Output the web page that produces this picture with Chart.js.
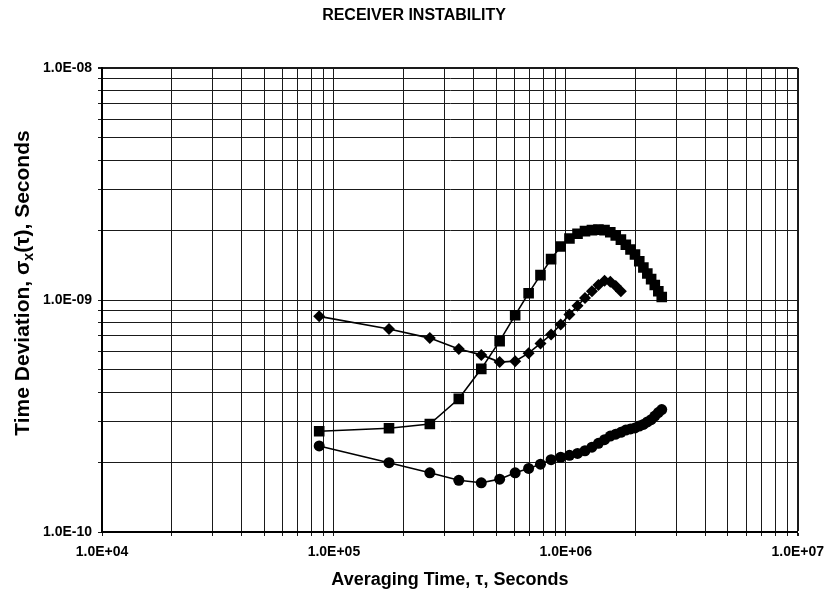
<!DOCTYPE html>
<html>
<head>
<meta charset="utf-8">
<script src="https://cdn.jsdelivr.net/npm/chart.js@4.4.0/dist/chart.umd.min.js"></script>
<style>
  html, body { margin: 0; padding: 0; background: #fff; }
  #wrap { width: 832px; height: 594px; }
</style>
</head>
<body>
<div id="wrap"><canvas id="chart" width="832" height="594"></canvas></div>
<script>
const chartTitle = "RECEIVER INSTABILITY";
const xTitle = "Averaging Time, \u03c4, Seconds";
const yTitleParts = ["Time Deviation, \u03c3", "x", "(\u03c4), Seconds"];

// decade ticks and their labels
const xDecades = [1e4, 1e5, 1e6, 1e7];
const xDecadeLabels = ["1.0E+04", "1.0E+05", "1.0E+06", "1.0E+07"];
const yDecades = [1e-10, 1e-9, 1e-8];
const yDecadeLabels = ["1.0E-10", "1.0E-09", "1.0E-08"];

// averaging times, seconds (1 to 30 days)
const tauDiamond = [86400, 172800, 259200, 345600, 432000, 518400, 604800, 691200, 777600, 864000,
  950400, 1036800, 1123200, 1209600, 1296000, 1382400, 1468800, 1555200, 1641600, 1728000];
const devDiamond = [8.5e-10, 7.5e-10, 6.85e-10, 6.15e-10, 5.8e-10, 5.4e-10, 5.45e-10, 5.9e-10, 6.5e-10, 7.1e-10,
  7.85e-10, 8.65e-10, 9.45e-10, 1.02e-9, 1.09e-9, 1.16e-9, 1.21e-9, 1.2e-9, 1.15e-9, 1.09e-9];

const tauSquare = [86400, 172800, 259200, 345600, 432000, 518400, 604800, 691200, 777600, 864000,
  950400, 1036800, 1123200, 1209600, 1296000, 1382400, 1468800, 1555200, 1641600, 1728000,
  1814400, 1900800, 1987200, 2073600, 2160000, 2246400, 2332800, 2419200, 2505600, 2592000];
const devSquare = [2.72e-10, 2.8e-10, 2.92e-10, 3.75e-10, 5.05e-10, 6.65e-10, 8.6e-10, 1.07e-9, 1.28e-9, 1.5e-9,
  1.7e-9, 1.84e-9, 1.93e-9, 1.98e-9, 2.0e-9, 2.01e-9, 2.0e-9, 1.96e-9, 1.9e-9, 1.82e-9,
  1.73e-9, 1.65e-9, 1.57e-9, 1.47e-9, 1.38e-9, 1.3e-9, 1.23e-9, 1.16e-9, 1.09e-9, 1.03e-9];

const tauCircle = tauSquare;
const devCircle = [2.35e-10, 1.99e-10, 1.8e-10, 1.67e-10, 1.63e-10, 1.69e-10, 1.8e-10, 1.88e-10, 1.96e-10, 2.05e-10,
  2.1e-10, 2.14e-10, 2.18e-10, 2.24e-10, 2.32e-10, 2.41e-10, 2.5e-10, 2.59e-10, 2.64e-10, 2.69e-10,
  2.75e-10, 2.78e-10, 2.81e-10, 2.86e-10, 2.91e-10, 2.98e-10, 3.05e-10, 3.16e-10, 3.27e-10, 3.37e-10];

const FONT = "'Liberation Sans', Arial, sans-serif";

function pairs(xs, ys) {
  return xs.map((x, i) => ({ x: x, y: ys[i] }));
}

// 1..9 x each decade, for the grid
function logGrid(decades) {
  let out = [];
  for (let i = 0; i < decades.length - 1; i++) {
    for (let m = 1; m <= 9; m++) out.push({ value: decades[i] * m });
  }
  out.push({ value: decades[decades.length - 1] });
  return out;
}

function decadeLabel(value, decades, labels) {
  for (let i = 0; i < decades.length; i++) {
    if (Math.abs(Math.log10(value) - Math.log10(decades[i])) < 1e-6) return labels[i];
  }
  return "";
}

const textPlugin = {
  id: "texts",
  afterDraw(chart) {
    const ctx = chart.ctx;
    const area = chart.chartArea;
    ctx.save();
    ctx.fillStyle = "#000";
    ctx.textAlign = "center";
    ctx.textBaseline = "middle";
    ctx.font = "bold 16px " + FONT;
    ctx.fillText(chartTitle, 414, 16);
    ctx.font = "bold 18px " + FONT;
    ctx.fillText(xTitle, (area.left + area.right) / 2, 580);

    // y title with subscript
    ctx.translate(23, 283);
    ctx.rotate(-Math.PI / 2);
    ctx.textAlign = "left";
    const mainFont = "bold 21px " + FONT;
    const subFont = "bold 14px " + FONT;
    ctx.font = mainFont;
    const w1 = ctx.measureText(yTitleParts[0]).width;
    const w3 = ctx.measureText(yTitleParts[2]).width;
    ctx.font = subFont;
    const w2 = ctx.measureText(yTitleParts[1]).width;
    let x = -(w1 + w2 + w3) / 2;
    ctx.font = mainFont;
    ctx.fillText(yTitleParts[0], x, 0);
    x += w1;
    ctx.font = subFont;
    ctx.fillText(yTitleParts[1], x, 6);
    x += w2;
    ctx.font = mainFont;
    ctx.fillText(yTitleParts[2], x, 0);
    ctx.restore();
  }
};

function series(data, style, radius) {
  return {
    data: data,
    borderColor: "#000",
    backgroundColor: "#000",
    borderWidth: 1.6,
    pointStyle: style,
    pointRadius: radius,
    pointBorderWidth: 0,
    tension: 0,
    fill: false
  };
}

function gridWidth(ctx) {
  const s = ctx.scale;
  if (!ctx.tick) return 1;
  return Math.abs(ctx.tick.value - s.max) / s.max < 1e-6 ? 2 : 1;
}

new Chart(document.getElementById("chart"), {
  type: "line",
  data: {
    datasets: [
      series(pairs(tauDiamond, devDiamond), "rectRot", 6),
      series(pairs(tauSquare, devSquare), "rect", 7.5),
      series(pairs(tauCircle, devCircle), "circle", 5.5)
    ]
  },
  options: {
    responsive: false,
    animation: false,
    devicePixelRatio: 1,
    layout: { padding: { left: 0, right: 29, top: 68, bottom: 0 } },
    plugins: {
      legend: { display: false },
      tooltip: { enabled: false },
      title: { display: false }
    },
    scales: {
      x: {
        type: "logarithmic",
        min: 1e4,
        max: 1e7,
        afterBuildTicks: s => { s.ticks = logGrid(xDecades); },
        afterFit: s => { s.height = 62; },
        ticks: {
          autoSkip: false,
          maxRotation: 0,
          padding: 8,
          color: "#000",
          font: { family: FONT, size: 14, weight: "bold" },
          callback: v => decadeLabel(v, xDecades, xDecadeLabels)
        },
        grid: { color: "#1a1a1a", lineWidth: gridWidth, tickLength: 4, drawTicks: true },
        border: { color: "#000", width: 2 }
      },
      y: {
        type: "logarithmic",
        min: 1e-10,
        max: 1e-8,
        afterBuildTicks: s => { s.ticks = logGrid(yDecades); },
        afterFit: s => { s.width = 102; },
        ticks: {
          autoSkip: false,
          padding: 6,
          color: "#000",
          font: { family: FONT, size: 14, weight: "bold" },
          callback: v => decadeLabel(v, yDecades, yDecadeLabels)
        },
        grid: { color: "#1a1a1a", lineWidth: gridWidth, tickLength: 4, drawTicks: true },
        border: { color: "#000", width: 2 }
      }
    }
  },
  plugins: [textPlugin]
});
</script>
</body>
</html>
